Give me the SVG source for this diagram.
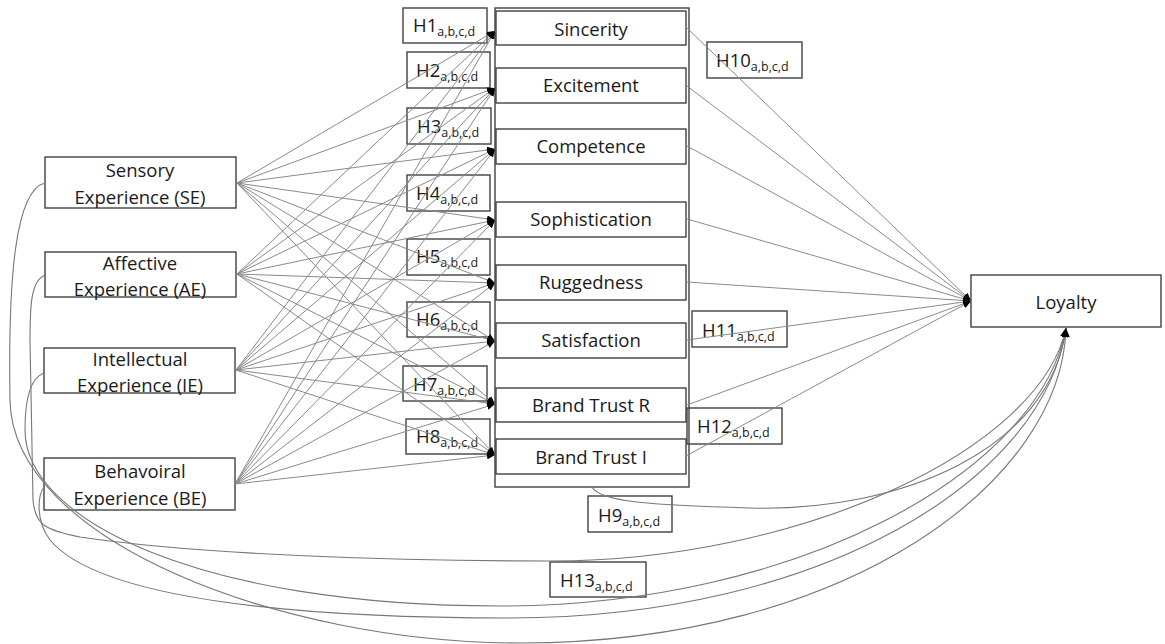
<svg xmlns="http://www.w3.org/2000/svg" width="1165" height="644" viewBox="0 0 1165 644">
<defs>
<marker id="ah" markerWidth="8" markerHeight="7" refX="8" refY="3.5" orient="auto" markerUnits="userSpaceOnUse"><path d="M0,0 L8,3.5 L0,7z" fill="#000"/></marker>
<marker id="ahs" markerWidth="9" markerHeight="8" refX="9" refY="4" orient="auto" markerUnits="userSpaceOnUse"><path d="M0,0 L9,4 L0,8z" fill="#000"/></marker>
<style>
.box{fill:#fff;stroke:#404040;stroke-width:1.4}
.lbl{fill:none;stroke:#404040;stroke-width:1.4}
.t{font-family:"Open Sans","Liberation Sans",sans-serif;font-size:18.5px;fill:#1a1a1a}
.c{text-anchor:middle}
.sub{font-size:12.5px}
.ln{fill:none;stroke:#8a8a8a;stroke-width:1}
.cv{fill:none;stroke:#777;stroke-width:1.1}
</style>
</defs>
<rect width="1165" height="644" fill="#fff"/>

<g id="middle-frame"><rect class="box" x="495" y="8" width="194" height="479"/></g>

<g id="sincerity"><rect class="box" x="496" y="11" width="190" height="34"/><text class="t c" x="591" y="36">Sincerity</text></g>
<g id="excitement"><rect class="box" x="496" y="68" width="190" height="35"/><text class="t c" x="591" y="92">Excitement</text></g>
<g id="competence"><rect class="box" x="496" y="129" width="190" height="35"/><text class="t c" x="591" y="153">Competence</text></g>
<g id="sophistication"><rect class="box" x="496" y="202" width="190" height="35"/><text class="t c" x="591" y="226">Sophistication</text></g>
<g id="ruggedness"><rect class="box" x="496" y="265" width="190" height="35"/><text class="t c" x="591" y="289">Ruggedness</text></g>
<g id="satisfaction"><rect class="box" x="496" y="323" width="190" height="35"/><text class="t c" x="591" y="347">Satisfaction</text></g>
<g id="brand-trust-r"><rect class="box" x="496" y="388" width="190" height="34"/><text class="t c" x="591" y="412">Brand Trust R</text></g>
<g id="brand-trust-i"><rect class="box" x="496" y="439" width="190" height="35"/><text class="t c" x="591" y="464">Brand Trust I</text></g>

<g id="se"><rect class="box" x="45" y="157" width="191" height="51"/><text class="t c" x="140" y="177">Sensory</text><text class="t c" x="140" y="204">Experience (SE)</text></g>
<g id="ae"><rect class="box" x="45" y="252" width="191" height="45"/><text class="t c" x="140" y="270">Affective</text><text class="t c" x="140" y="296">Experience (AE)</text></g>
<g id="ie"><rect class="box" x="44" y="348" width="191" height="45"/><text class="t c" x="140" y="366">Intellectual</text><text class="t c" x="140" y="392">Experience (IE)</text></g>
<g id="be"><rect class="box" x="44" y="458" width="191" height="52"/><text class="t c" x="140" y="478">Behavoiral</text><text class="t c" x="140" y="505">Experience (BE)</text></g>

<g id="loyalty"><rect class="box" x="971" y="275" width="190" height="52"/><text class="t c" x="1066" y="309">Loyalty</text></g>

<g id="h1"><rect class="lbl" x="403" y="8" width="84" height="35"/><text class="t" x="413" y="32">H1<tspan class="sub" dy="4">a,b,c,d</tspan></text></g>
<g id="h2"><rect class="lbl" x="407" y="52" width="83" height="36"/><text class="t" x="416" y="77">H2<tspan class="sub" dy="4">a,b,c,d</tspan></text></g>
<g id="h3"><rect class="lbl" x="407" y="108" width="84" height="36"/><text class="t" x="417" y="133">H3<tspan class="sub" dy="4">a,b,c,d</tspan></text></g>
<g id="h4"><rect class="lbl" x="407" y="175" width="83" height="36"/><text class="t" x="416" y="200">H4<tspan class="sub" dy="4">a,b,c,d</tspan></text></g>
<g id="h5"><rect class="lbl" x="407" y="239" width="83" height="36"/><text class="t" x="416" y="263">H5<tspan class="sub" dy="4">a,b,c,d</tspan></text></g>
<g id="h6"><rect class="lbl" x="407" y="302" width="83" height="35"/><text class="t" x="416" y="326">H6<tspan class="sub" dy="4">a,b,c,d</tspan></text></g>
<g id="h7"><rect class="lbl" x="403" y="366" width="84" height="35"/><text class="t" x="413" y="391">H7<tspan class="sub" dy="4">a,b,c,d</tspan></text></g>
<g id="h8"><rect class="lbl" x="406" y="419" width="84" height="35"/><text class="t" x="416" y="443">H8<tspan class="sub" dy="4">a,b,c,d</tspan></text></g>
<g id="h9"><rect class="lbl" x="588" y="496" width="84" height="36"/><text class="t" x="598" y="522">H9<tspan class="sub" dy="4">a,b,c,d</tspan></text></g>
<g id="h10"><rect class="lbl" x="707" y="42" width="95" height="36"/><text class="t" x="716" y="67">H10<tspan class="sub" dy="4">a,b,c,d</tspan></text></g>
<g id="h11"><rect class="lbl" x="692" y="311" width="95" height="36"/><text class="t" x="702" y="337">H11<tspan class="sub" dy="4">a,b,c,d</tspan></text></g>
<g id="h12"><rect class="lbl" x="687" y="408" width="95" height="36"/><text class="t" x="697" y="433">H12<tspan class="sub" dy="4">a,b,c,d</tspan></text></g>
<g id="h13"><rect class="lbl" x="550" y="562" width="96" height="35"/><text class="t" x="560" y="587">H13<tspan class="sub" dy="4">a,b,c,d</tspan></text></g>

<g id="connectors">
<g marker-end="url(#ah)" class="ln">
<line x1="237" y1="183" x2="495" y2="31"/><line x1="237" y1="183" x2="495" y2="88"/><line x1="237" y1="183" x2="495" y2="149"/><line x1="237" y1="183" x2="495" y2="220"/><line x1="237" y1="183" x2="495" y2="283"/><line x1="237" y1="183" x2="495" y2="341"/><line x1="237" y1="183" x2="495" y2="404"/><line x1="237" y1="183" x2="495" y2="455"/>
<line x1="237" y1="274" x2="495" y2="31"/><line x1="237" y1="274" x2="495" y2="88"/><line x1="237" y1="274" x2="495" y2="149"/><line x1="237" y1="274" x2="495" y2="220"/><line x1="237" y1="274" x2="495" y2="283"/><line x1="237" y1="274" x2="495" y2="341"/><line x1="237" y1="274" x2="495" y2="404"/><line x1="237" y1="274" x2="495" y2="455"/>
<line x1="236" y1="370" x2="495" y2="31"/><line x1="236" y1="370" x2="495" y2="88"/><line x1="236" y1="370" x2="495" y2="149"/><line x1="236" y1="370" x2="495" y2="220"/><line x1="236" y1="370" x2="495" y2="283"/><line x1="236" y1="370" x2="495" y2="341"/><line x1="236" y1="370" x2="495" y2="404"/><line x1="236" y1="370" x2="495" y2="455"/>
<line x1="235" y1="484" x2="495" y2="31"/><line x1="235" y1="484" x2="495" y2="88"/><line x1="235" y1="484" x2="495" y2="149"/><line x1="235" y1="484" x2="495" y2="220"/><line x1="235" y1="484" x2="495" y2="283"/><line x1="235" y1="484" x2="495" y2="341"/><line x1="235" y1="484" x2="495" y2="404"/><line x1="235" y1="484" x2="495" y2="455"/>
</g>
<g marker-end="url(#ah)" class="ln">
<line x1="687" y1="28" x2="971" y2="301"/><line x1="687" y1="86" x2="971" y2="301"/><line x1="687" y1="146" x2="971" y2="301"/><line x1="687" y1="219" x2="971" y2="301"/><line x1="687" y1="282" x2="971" y2="301"/><line x1="687" y1="340" x2="971" y2="301"/><line x1="687" y1="405" x2="971" y2="301"/><line x1="686" y1="456" x2="971" y2="301"/>
</g>
<g marker-end="url(#ahs)" class="cv">
<path d="M592,487 C600,502 650,505 750,508 C900,512 1050,450 1066,328"/>
<path d="M45,183 C15,190 8,280 10,400 C12,540 280,643 520,643 C850,643 1062,480 1066,328"/>
<path d="M45,275 C32,280 30,300 30,340 L33,500 C35,525 45,530 80,537 C200,555 400,561 551,561 C800,561 1040,450 1066,328"/>
<path d="M44,373 C30,378 25,400 25,430 C25,520 200,606 500,606 C800,606 1040,470 1066,328"/>
<path d="M44,487 C38,495 35,520 50,540 C100,600 300,618 510,618 C820,618 1045,480 1066,328"/>
</g>
</g>
</svg>
